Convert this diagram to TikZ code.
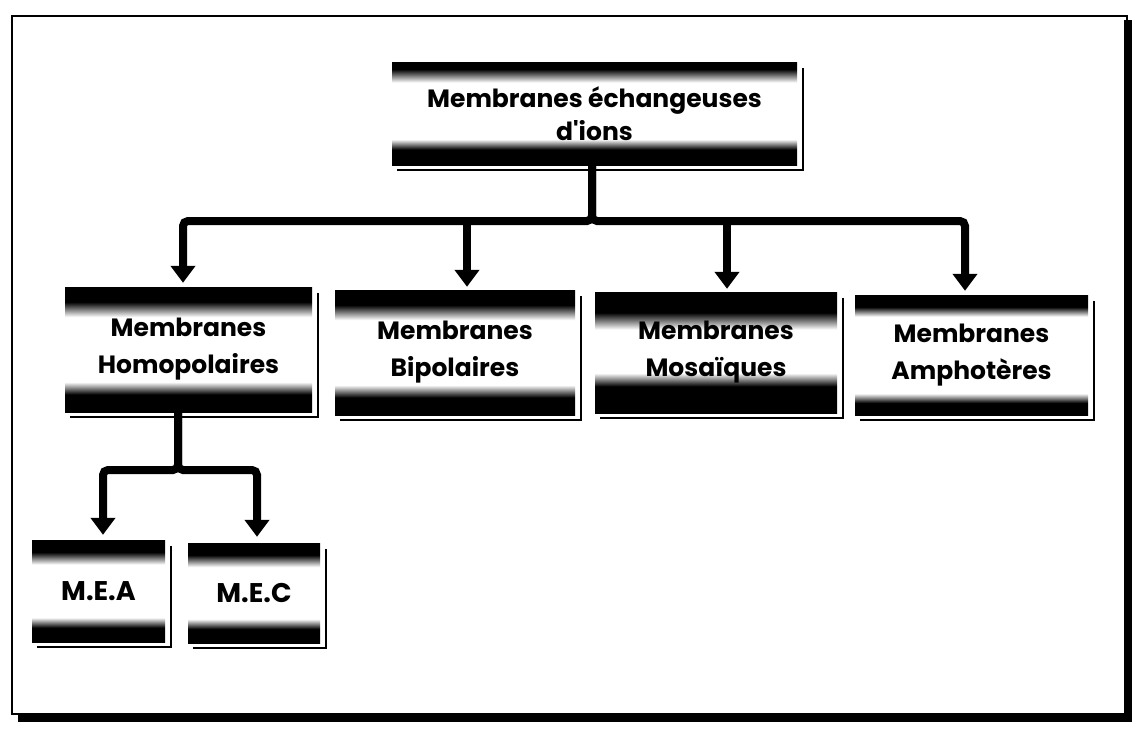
\documentclass[tikz,border=0pt]{standalone}
\usepackage{fontspec}
\setmainfont{Poppins}[Ligatures=TeXOff]
\usetikzlibrary{arrows.meta,calc}
\pgfdeclareverticalshading{bandstd}{100bp}{color(0bp)=(black); color(32bp)=(black); color(37bp)=(white); color(63bp)=(white); color(69bp)=(black); color(100bp)=(black)}
\pgfdeclareverticalshading{bandtop}{100bp}{color(0bp)=(black); color(32.5bp)=(black); color(37.5bp)=(white); color(65bp)=(white); color(71.5bp)=(black); color(100bp)=(black)}
\pgfdeclareverticalshading{banddark}{100bp}{color(0bp)=(black); color(36bp)=(black); color(41.5bp)=(white); color(59.5bp)=(white); color(66.5bp)=(black); color(100bp)=(black)}
\pgfdeclareverticalshading{bandlight}{100bp}{color(0bp)=(black); color(30bp)=(black); color(34bp)=(white); color(66bp)=(white); color(70bp)=(black); color(100bp)=(black)}
\tikzset{
  mbox/.style={shading=bandstd, inner sep=0pt, align=center,
    font=\fontsize{25}{37}\selectfont\bfseries},
  conn/.style={line width=8pt, -{Triangle[width=24pt,length=17pt]}},
  shadowline/.style={line width=2.5pt},
}
\newcommand\boxshadow[1]{\draw[shadowline] ([xshift=5pt,yshift=-5pt]#1.south west) -| ([xshift=6pt,yshift=-6pt]#1.north east);}
\begin{document}
\begin{tikzpicture}[x=1pt,y=-1pt]
\useasboundingbox (0,0) rectangle (1133,729);
\fill[white] (0,0) rectangle (1133,729);
% outer frame
\draw[line width=1.8pt] (12,16) rectangle (1127,714);
\fill[black] (18,713) rectangle (1132,722);
\fill[black] (1124,20) rectangle (1132,722);
% boxes
\node[mbox, shading=bandtop, minimum width=405pt, minimum height=103pt,
  font=\fontsize{25}{33}\selectfont\bfseries] (top) at (594.5,113.5) {Membranes échangeuses\\d'ions};
\node[mbox, minimum width=247pt, minimum height=125pt] (homo) at (188.5,349.5) {Membranes\\Homopolaires};
\node[mbox, minimum width=240pt, minimum height=125pt] (bip) at (455,352.5) {Membranes\\Bipolaires};
\node[mbox, shading=banddark, minimum width=242pt, minimum height=121pt] (mos) at (716,352.5) {Membranes\\Mosaïques};
\node[mbox, shading=bandlight, minimum width=233pt, minimum height=120pt] (amph) at (971.5,355) {Membranes\\Amphotères};
\node[mbox, minimum width=133pt, minimum height=102pt,
  font=\fontsize{27}{37}\selectfont\bfseries] (mea) at (98.5,591) {M.E.A};
\node[mbox, minimum width=132pt, minimum height=100pt,
  font=\fontsize{27}{37}\selectfont\bfseries] (mec) at (254,593) {M.E.C};
\foreach \n in {top,homo,bip,mos,amph,mea,mec}{\boxshadow{\n}}
% connectors, level 1
\coordinate (bus) at (0,221);
\draw[conn, rounded corners=5pt] ([xshift=-2.5pt]top.south) |- ([xshift=-5.5pt]homo.north |- bus) -- ([xshift=-5.5pt,yshift=4pt]homo.north);
\draw[conn, rounded corners=5pt] ([xshift=-2.5pt]top.south) |- ([xshift=-6.5pt]amph.north |- bus) -- ([xshift=-6.5pt,yshift=4pt]amph.north);
\draw[conn] ([xshift=12pt]bip.north |- bus) -- ([xshift=12pt,yshift=3pt]bip.north);
\draw[conn] ([xshift=11pt]mos.north |- bus) -- ([xshift=11pt,yshift=3pt]mos.north);
% connectors, level 2
\coordinate (bus2) at (0,470);
\draw[conn, rounded corners=5pt] ([xshift=-10.5pt]homo.south) |- ([xshift=4.5pt]mea.north |- bus2) -- ([xshift=4.5pt,yshift=5pt]mea.north);
\draw[conn, rounded corners=5pt] ([xshift=-10.5pt]homo.south) |- ([xshift=3pt]mec.north |- bus2) -- ([xshift=3pt,yshift=6pt]mec.north);
\end{tikzpicture}
\end{document}
